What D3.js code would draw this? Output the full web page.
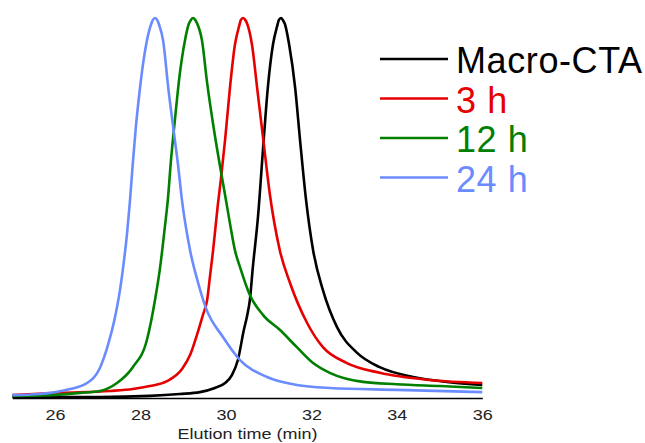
<!DOCTYPE html>
<html>
<meta charset="utf-8">

<style>
    body {
        margin: 0;
        background: #fff;
    }

    .axis path {
        fill: none;
        stroke: #000;
        stroke-width: 1.5;
    }

    .axis text {
        font: 15px "Liberation Sans", Arial, sans-serif;
        fill: #222;
    }

    .trace {
        fill: none;
        stroke-width: 2.6;
        stroke-linejoin: round;
    }

    .legend text {
        font: 36px "Liberation Sans", Arial, sans-serif;
        letter-spacing: 0.6px;
    }
</style>

<body>
    <script src="https://d3js.org/d3.v7.min.js"></script>
    <div id="chart1"></div>
    <script>
        // elution time (min) and normalized RI signal
        var seriesNames = ["Macro-CTA", "3 h", "12 h", "24 h"];
        var seriesColors = ["#000000", "#e60000", "#008000", "#6b8cff"];

        var ctaTime = [25.00, 27.05, 28.22, 28.92, 29.39, 29.74, 29.98, 30.14, 30.28, 30.42, 30.49, 30.56, 30.63, 30.75, 30.87, 30.98, 31.10, 31.20, 31.24, 31.29,
                       31.33, 31.38, 31.48, 31.62, 31.73, 31.87, 32.04, 32.27, 32.60, 33.07, 33.60, 34.38, 35.17, 36.00];
        var ctaSignal = [-0.004, -0.004, -0.001, 0.004, 0.009, 0.020, 0.033, 0.054, 0.094, 0.174, 0.208, 0.253, 0.340, 0.473, 0.656, 0.815, 0.929, 0.979, 0.995, 1.000,
                         0.995, 0.984, 0.929, 0.815, 0.682, 0.523, 0.385, 0.279, 0.181, 0.113, 0.075, 0.049, 0.036, 0.028];

        var h3Time = [25.00, 26.12, 27.29, 27.82, 28.22, 28.62, 28.99, 29.16, 29.32, 29.46, 29.56, 29.63, 29.70, 29.81, 29.88, 29.98, 30.10, 30.21, 30.31, 30.35, 30.40,
                      30.45, 30.49, 30.61, 30.73, 30.87, 31.03, 31.26, 31.50, 31.90, 32.27, 32.83, 33.60, 34.77, 36.00];
        var h3Signal = [0.001, 0.007, 0.012, 0.017, 0.025, 0.038, 0.073, 0.107, 0.160, 0.213, 0.253, 0.319, 0.385, 0.505, 0.571, 0.677, 0.822, 0.929, 0.979, 0.995, 1.000,
                        0.995, 0.987, 0.929, 0.815, 0.682, 0.531, 0.385, 0.298, 0.192, 0.128, 0.086, 0.060, 0.041, 0.033];

        var h12Time = [25.00, 25.88, 26.58, 27.05, 27.45, 27.82, 28.15, 28.34, 28.46, 28.57, 28.64, 28.71, 28.81, 28.92, 29.04, 29.13, 29.18, 29.23,
                       29.28, 29.32, 29.44, 29.56, 29.72, 29.91, 30.00, 30.10, 30.21, 30.33, 30.56, 30.87, 31.26, 31.66, 32.04, 32.43, 33.21, 34.00, 35.01, 36.00];
        var h12Signal = [-0.001, 0.001, 0.007, 0.012, 0.033, 0.075, 0.147, 0.253, 0.340, 0.446, 0.518, 0.618, 0.735, 0.852, 0.940, 0.984, 0.995, 1.000,
                         0.995, 0.987, 0.940, 0.828, 0.704, 0.576, 0.518, 0.452, 0.385, 0.340, 0.266, 0.213, 0.174, 0.128, 0.086, 0.060, 0.036, 0.030, 0.025, 0.020];

        var h24Time = [25.00, 25.65, 26.28, 26.75, 27.05, 27.24, 27.38, 27.52, 27.61, 27.68, 27.75, 27.82, 27.89, 27.97, 28.04, 28.15, 28.25, 28.29, 28.34,
                       28.39, 28.43, 28.53, 28.65, 28.78, 28.88, 28.97, 29.16, 29.35, 29.53, 29.93, 30.33, 30.96, 31.66, 32.43, 34.00, 36.00];
        var h24Signal = [0.001, 0.004, 0.015, 0.033, 0.073, 0.134, 0.195, 0.279, 0.354, 0.423, 0.510, 0.614, 0.709, 0.796, 0.862, 0.940, 0.984, 0.995, 1.000,
                         0.995, 0.984, 0.940, 0.815, 0.698, 0.610, 0.518, 0.385, 0.298, 0.232, 0.155, 0.094, 0.049, 0.028, 0.020, 0.015, 0.009];

        var xTicks = [26, 28, 30, 32, 34, 36];

        var seriesTimes = [ctaTime, h3Time, h12Time, h24Time];
        var seriesSignals = [ctaSignal, h3Signal, h12Signal, h24Signal];

        var width = 645, height = 443;

        var svg = d3.select("#chart1").append("svg")
            .attr("width", width)
            .attr("height", height)
            .style("display", "block");

        var xScale = d3.scaleLinear().domain([25, 36]).range([12.3, 482.3]);
        var yScale = d3.scaleLinear().domain([0, 1]).range([395.5, 18]);

        var line = d3.line()
            .x(function (d) { return xScale(d[0]); })
            .y(function (d) { return yScale(d[1]); })
            .curve(d3.curveMonotoneX);

        seriesNames.forEach(function (name, i) {
            var pts = seriesTimes[i].map(function (t, k) { return [t, seriesSignals[i][k]]; });
            svg.append("path")
                .attr("class", "trace")
                .attr("stroke", seriesColors[i])
                .attr("d", line(pts));
        });

        var xAxis = d3.axisBottom(xScale)
            .tickValues(xTicks)
            .tickSize(0)
            .tickPadding(11)
            .tickSizeOuter(0);

        var gx = svg.append("g")
            .attr("class", "x axis")
            .attr("transform", "translate(0,398)")
            .call(xAxis);
        // the original's axis text is a bit wider than plain Arial
        gx.selectAll(".tick text").attr("transform", "scale(1.2,1)");

        svg.append("text")
            .attr("transform", "translate(247.5,439) scale(1.2,1)")
            .attr("text-anchor", "middle")
            .style("font", "15px 'Liberation Sans', Arial, sans-serif")
            .style("fill", "#222")
            .text("Elution time (min)");

        // legend
        var legend = svg.append("g").attr("class", "legend");
        seriesNames.forEach(function (name, i) {
            var rowY = 59 + i * 39.5;
            legend.append("line")
                .attr("x1", 380).attr("x2", 448)
                .attr("y1", rowY).attr("y2", rowY)
                .attr("stroke", seriesColors[i])
                .attr("stroke-width", 2.6);
            legend.append("text")
                .attr("x", 456)
                .attr("y", rowY + 14)
                .attr("fill", seriesColors[i])
                .text(name);
        });
    </script>
</body>

</html>
